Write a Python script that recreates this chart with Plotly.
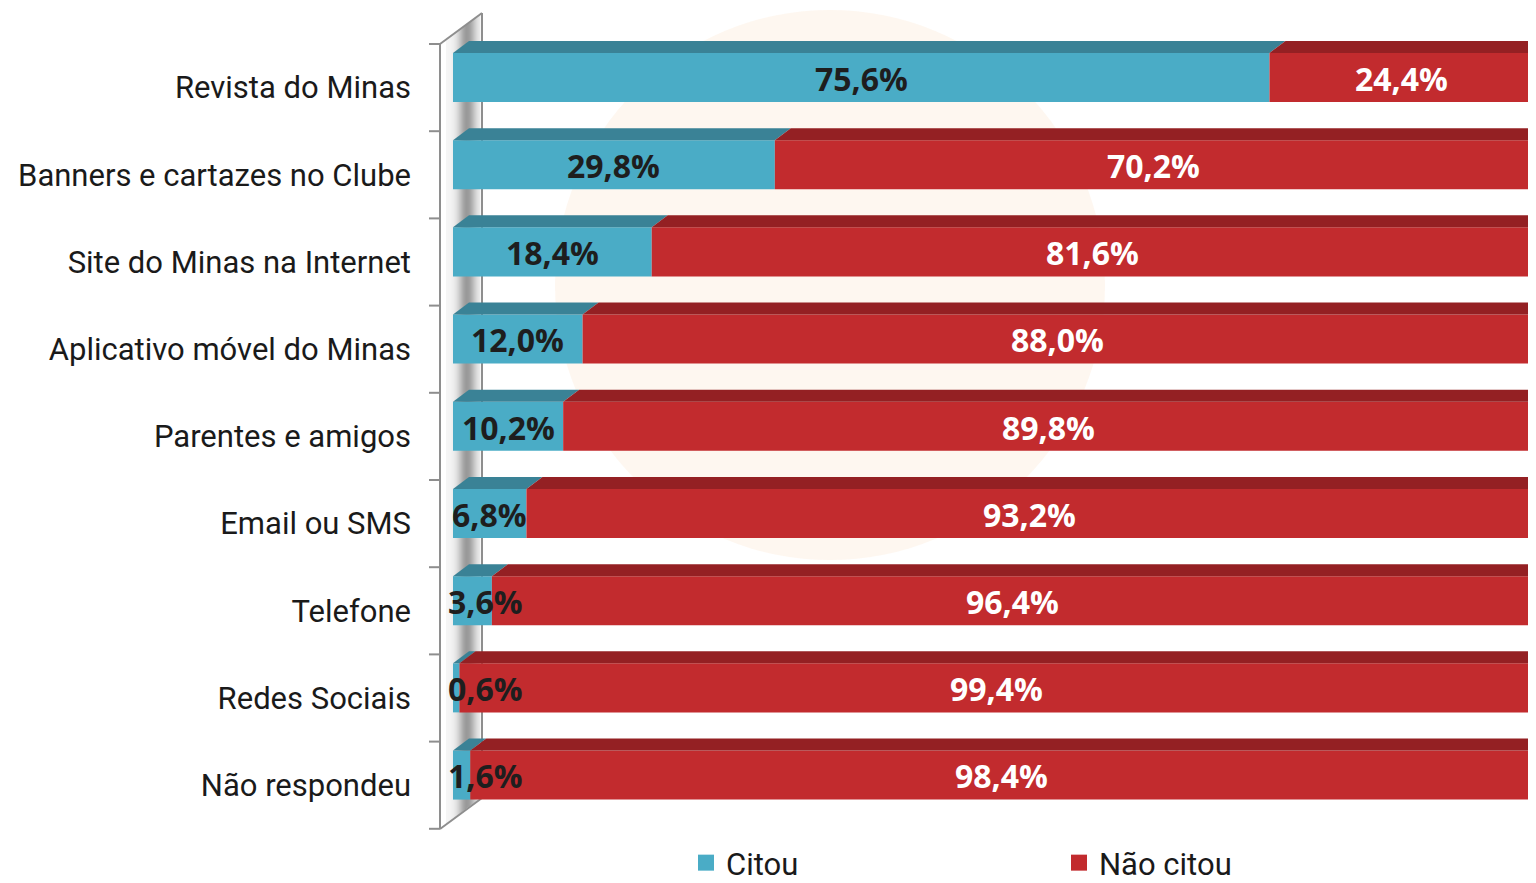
import math
import plotly.graph_objects as go

# ---------------- data ----------------
categories = [
    "Revista do Minas",
    "Banners e cartazes no Clube",
    "Site do Minas na Internet",
    "Aplicativo móvel do Minas",
    "Parentes e amigos",
    "Email ou SMS",
    "Telefone",
    "Redes Sociais",
    "Não respondeu",
]
citou = [75.6, 29.8, 18.4, 12.0, 10.2, 6.8, 3.6, 0.6, 1.6]
nao_citou = [24.4, 70.2, 81.6, 88.0, 89.8, 93.2, 96.4, 99.4, 98.4]
series_names = ["Citou", "Não citou"]

# ---------------- style / geometry (reference-window pixels) ----------------
PAGE_OFF = 8                      # browser body margin
W, H = 1536 - PAGE_OFF, 883 - PAGE_OFF
PLOT_L, PLOT_R, PLOT_T, PLOT_B = 439, 1536, 10, 830   # window px
ML = PLOT_L - PAGE_OFF
MR = 0
MT = PLOT_T - PAGE_OFF
MB = H - (PLOT_B - PAGE_OFF)
PX_PER_PCT = 10.8
X0_PX = 453
BAND_PX = 87.2
ROW0_PX = 87.5

BLUE, BLUE_TOP = "#4aacc6", "#3a8296"
RED, RED_TOP, RED_SIDE = "#c22b2e", "#942023", "#7a1a1c"
FONT = "Roboto"
LABEL_FONT = "Open Sans"

plot_w = PLOT_R - PLOT_L
plot_h = PLOT_B - PLOT_T
x_min = (PLOT_L - X0_PX) / PX_PER_PCT
x_max = x_min + plot_w / PX_PER_PCT
y_top = (PLOT_T - ROW0_PX) / BAND_PX
y_bot = (PLOT_B - ROW0_PX) / BAND_PX

BAR_OFF, BAR_W = -0.396, 0.562
DX = 16 / PX_PER_PCT
DY = 12 / BAND_PX


def P(px, py):
    return (px - PLOT_L) / plot_w, (PLOT_B - py) / plot_h


def ppath(pts):
    s = []
    for k, (px, py) in enumerate(pts):
        x, y = P(px, py)
        s.append(("M" if k == 0 else "L") + f"{x:.5f},{y:.5f}")
    return " ".join(s) + " Z"


def fmt(v):
    return f"{v:.1f}".replace(".", ",") + "%"


ys = list(range(len(categories)))

fig = go.Figure()
fig.add_trace(go.Bar(
    y=ys, x=citou, base=[0] * len(citou), orientation="h", name=series_names[0],
    marker=dict(color=BLUE, line=dict(width=0)), width=BAR_W, offset=BAR_OFF,
    hoverinfo="skip", showlegend=False,
))
fig.add_trace(go.Bar(
    y=ys, x=nao_citou, base=citou, orientation="h", name=series_names[1],
    marker=dict(color=RED, line=dict(width=0)), width=BAR_W, offset=BAR_OFF,
    hoverinfo="skip", showlegend=False,
))
# legend entries (square keys)
for name, col in zip(series_names, [BLUE, RED]):
    fig.add_trace(go.Scatter(x=[None], y=[None], mode="markers", name=name,
                             marker=dict(symbol="square", size=16, color=col),
                             showlegend=True, hoverinfo="skip"))

shapes = []

# watermark (faint)
cx, cy, r = 830, 285, 275
x0p, y0p = P(cx - r, cy + r)
x1p, y1p = P(cx + r, cy - r)
shapes.append(dict(type="circle", xref="paper", yref="paper", x0=x0p, y0=y0p, x1=x1p, y1=y1p,
                   fillcolor="rgba(252,226,196,0.26)", line=dict(width=0), layer="below"))

# left 3D wall
s = 31 / 42
N = 34
xa0, xb0 = 446, 480
for k in range(N):
    xa = xa0 + (xb0 - xa0) * k / N
    xb = xa0 + (xb0 - xa0) * (k + 1) / N + 0.4
    t = (k + 0.5) / N
    g = int(246 - 92 * math.exp(-((t - 0.62) / 0.26) ** 2))
    col = f"rgb({g},{g},{g})"
    pts = [(xa, 44 - (xa - 440) * s), (xb, 44 - (xb - 440) * s),
           (xb, 828 - (xb - 440) * s), (xa, 828 - (xa - 440) * s)]
    shapes.append(dict(type="path", xref="paper", yref="paper", path=ppath(pts),
                       fillcolor=col, line=dict(width=0), layer="below"))

edge = dict(color="#8e8e8e", width=2)
for (a, b) in [((440, 44), (440, 829)), ((440, 44), (482, 13)), ((482, 13), (482, 797)),
               ((440, 829), (482, 798))]:
    xa_, ya_ = P(*a)
    xb_, yb_ = P(*b)
    shapes.append(dict(type="line", xref="paper", yref="paper", x0=xa_, y0=ya_, x1=xb_, y1=yb_,
                       line=edge, layer="below"))
for b in range(len(categories) + 1):
    py = 44 + BAND_PX * b
    xa_, ya_ = P(429, py)
    xb_, yb_ = P(440, py)
    shapes.append(dict(type="line", xref="paper", yref="paper", x0=xa_, y0=ya_, x1=xb_, y1=yb_,
                       line=edge, layer="below"))

# 3D top faces and side face of bars
for i, (c, n) in enumerate(zip(citou, nao_citou)):
    yt = i + BAR_OFF
    yb = yt + BAR_W
    for (a, b, col) in [(0, c, BLUE_TOP), (c, c + n, RED_TOP)]:
        path = (f"M{a},{yt} L{b},{yt} L{b + DX},{yt - DY} L{a + DX},{yt - DY} Z")
        shapes.append(dict(type="path", xref="x", yref="y", path=path,
                           fillcolor=col, line=dict(width=0), layer="above"))
    e = c + n
    path = f"M{e},{yt} L{e + DX},{yt - DY} L{e + DX},{yb - DY} L{e},{yb} Z"
    shapes.append(dict(type="path", xref="x", yref="y", path=path,
                       fillcolor=RED_SIDE, line=dict(width=0), layer="above"))

# value labels
annotations = []
for i, (c, n) in enumerate(zip(citou, nao_citou)):
    yc = i + BAR_OFF + BAR_W / 2 + 0.01
    annotations.append(dict(x=max(c / 2, 3.0), y=yc, xref="x", yref="y", text=fmt(c),
                            showarrow=False, xanchor="center", yanchor="middle",
                            font=dict(family=LABEL_FONT, size=32, color="#1e1e1e", weight="bold")))
    annotations.append(dict(x=c + n / 2, y=yc, xref="x", yref="y", text=fmt(n),
                            showarrow=False, xanchor="center", yanchor="middle",
                            font=dict(family=LABEL_FONT, size=32, color="#ffffff", weight="bold")))

lx, _ = P(686, 0)
_, ly = P(0, 836)
fig.update_layout(
    width=W, height=H,
    margin=dict(l=ML, r=MR, t=MT, b=MB, autoexpand=False),
    paper_bgcolor="white", plot_bgcolor="rgba(0,0,0,0)",
    barmode="overlay",
    shapes=shapes, annotations=annotations,
    showlegend=True,
    legend=dict(orientation="h", x=lx, y=ly, xanchor="left", yanchor="top",
                font=dict(family=FONT, size=31, color="#1a1a1a"),
                entrywidth=328, entrywidthmode="pixels", traceorder="normal",
                itemsizing="trace", bgcolor="rgba(0,0,0,0)"),
    xaxis=dict(range=[x_min, x_max], showgrid=False, zeroline=False, showline=False,
               showticklabels=False, ticks="", fixedrange=True),
    yaxis=dict(range=[y_bot, y_top], tickvals=ys, ticktext=categories, showgrid=False,
               zeroline=False, showline=False, ticks="", ticklabelstandoff=27,
               tickfont=dict(family=FONT, size=31, color="#1a1a1a"), fixedrange=True),
)

fig.write_html("out.html")
